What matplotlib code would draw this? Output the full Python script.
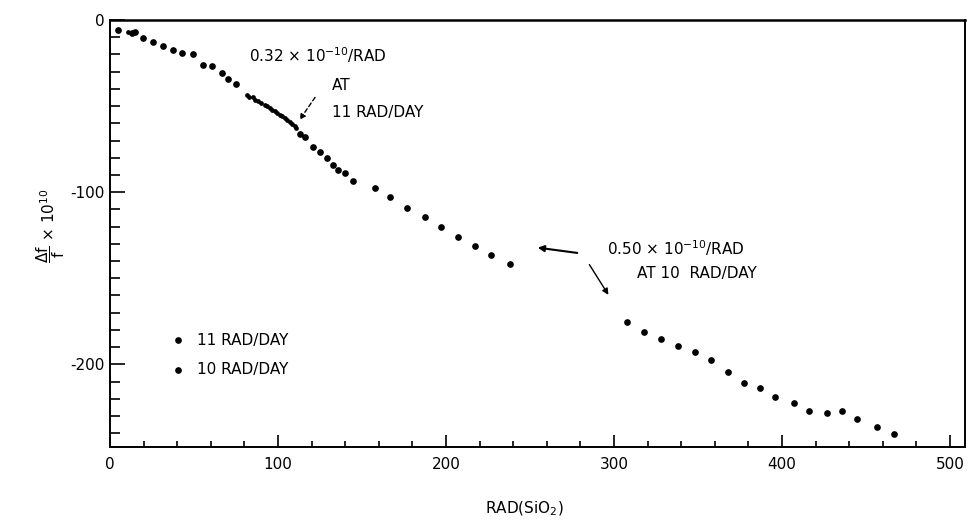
import matplotlib
matplotlib.use("Agg")
import matplotlib.pyplot as plt
from matplotlib.ticker import MultipleLocator

plt.rcParams['font.family'] = ['DejaVu Sans']
plt.rcParams['mathtext.default'] = 'regular'

# 11 RAD/DAY run
x11 = [5, 11, 13, 15, 19.8, 25.7, 31.5, 37.6, 42.8, 49.4, 55.5, 60.5, 66.5, 70.4, 75,
       81.5, 83, 85, 86.5, 88, 90, 92, 93.5, 95, 96.5, 98, 99.5, 101, 102.5, 104,
       105.5, 107, 108.5, 110, 111,
       113, 116, 121, 125, 129, 132.7, 135.7, 140, 144.6,
       157.7, 166.7, 176.6, 187.5, 197, 207, 217, 227, 238]
y11 = [-6, -7, -7.5, -7, -10.6, -12.6, -15, -17.4, -19.4, -19.8, -26, -26.8, -30.7, -34.4, -37.2,
       -43.6, -44.5, -45, -46.3, -46.8, -48, -49.5, -50.2, -51, -52, -53, -53.8, -55, -56, -57,
       -58, -59.5, -60.5, -61.8, -63,
       -66, -68, -73.8, -76.7, -80, -84.3, -87.2, -89, -93.6,
       -97.7, -103, -109.4, -114.6, -120.5, -126, -131, -136.6, -141.9]
small11 = [0, 1, 0, 0, 0, 0, 0, 0, 0, 0, 0, 0, 0, 0, 0] + [1] * 20 + [0] * 18

# 10 RAD/DAY run
x10 = [308, 318, 328, 338, 348, 358, 368, 377.6, 387, 396, 407, 416, 427, 436, 445, 456.5, 466.7]
y10 = [-175.6, -181, -185.5, -189.5, -193, -197.7, -204.7, -211, -214, -219, -222.7, -227,
       -228, -227, -232, -236.6, -240.7]

series_labels = ["11 RAD/DAY", "10 RAD/DAY"]

fig = plt.figure(figsize=(9.7, 5.25), dpi=100)
ax = fig.add_axes([110 / 970, 78 / 525, 855 / 970, 427 / 525])

big_x = [x for x, s in zip(x11, small11) if not s]
big_y = [y for y, s in zip(y11, small11) if not s]
sm_x = [x for x, s in zip(x11, small11) if s]
sm_y = [y for y, s in zip(y11, small11) if s]
ax.plot(big_x, big_y, 'o', color='black', markersize=3.8, linestyle='none')
ax.plot(sm_x, sm_y, 'o', color='black', markersize=2.4, linestyle='none')
ax.plot(x10, y10, 'o', color='black', markersize=3.8, linestyle='none')

ax.set_xlim(0, 509)
ax.set_ylim(-248, 0)

ax.xaxis.set_major_locator(MultipleLocator(100))
ax.xaxis.set_minor_locator(MultipleLocator(20))
ax.yaxis.set_major_locator(MultipleLocator(100))
ax.yaxis.set_minor_locator(MultipleLocator(10))
ax.tick_params(which='both', direction='in', top=False, right=False, width=1.2, labelsize=11)
ax.tick_params(axis='x', which='major', length=9, pad=7)
ax.tick_params(axis='x', which='minor', length=4)
ax.tick_params(axis='y', which='major', length=11, pad=4)
ax.tick_params(axis='y', which='minor', length=7)
ax.set_xticks([0, 100, 200, 300, 400, 500])
ax.set_yticks([0, -100, -200])
ax.set_yticklabels(['0', '-100', '-200'])
for s in ax.spines.values():
    s.set_linewidth(1.4)
ax.spines['top'].set_linewidth(1.8)

fs = 11
ax.text(83, -20.3, r"0.32 × 10$^{-10}$/RAD", fontsize=fs, va='center')
ax.text(132, -37.8, "AT", fontsize=fs, va='center')
ax.text(132, -53.5, series_labels[0], fontsize=fs, va='center')
ax.annotate("", xy=(112, -59.3), xytext=(123, -43.6),
            arrowprops=dict(arrowstyle='-|>', color='black', lw=1, linestyle=(0, (3, 2)),
                            mutation_scale=8))

ax.text(296, -132.6, r"0.50 × 10$^{-10}$/RAD", fontsize=fs, va='center')
ax.text(314, -147, "AT 10  " + series_labels[1].split(" ", 1)[1], fontsize=fs, va='center')
ax.annotate("", xy=(253, -132), xytext=(279.8, -135.5),
            arrowprops=dict(arrowstyle='-|>', color='black', lw=1.5, mutation_scale=9))
ax.annotate("", xy=(297.6, -161), xytext=(284.5, -140.7),
            arrowprops=dict(arrowstyle='-|>', color='black', lw=1, mutation_scale=9))

# legend drawn as in the original
ax.plot([40.5], [-186], 'o', color='black', markersize=3.8)
ax.text(51.8, -186, series_labels[0], fontsize=fs, va='center')
ax.plot([40.5], [-203], 'o', color='black', markersize=3.8)
ax.text(51.8, -203, series_labels[1], fontsize=fs, va='center')

fig.text(0.052, 0.571, r"$\dfrac{\Delta f}{f}$ × 10$^{10}$", rotation=90,
         fontsize=11, ha='center', va='center')
fig.text(0.541, 0.03, r"RAD(SiO$_2$)", fontsize=11, ha='center', va='center')

fig.savefig("out.png", dpi=100)
